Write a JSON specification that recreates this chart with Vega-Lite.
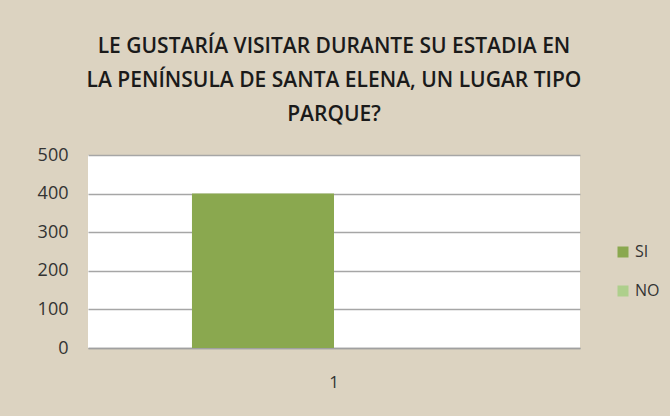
{
  "$schema": "https://vega.github.io/schema/vega-lite/v6.json",
  "autosize": {"type": "none"},
  "width": 492,
  "height": 193,
  "padding": {"left": 88, "top": 155, "right": 90, "bottom": 68},
  "background": "#DCD3C1",
  "title": {
    "text": ["LE GUSTARÍA VISITAR DURANTE  SU ESTADIA EN", "LA PENÍNSULA DE SANTA ELENA, UN LUGAR TIPO", "PARQUE?"],
    "font": "Open Sans",
    "fontSize": 21,
    "fontWeight": 600,
    "color": "#1a1a1a",
    "lineHeight": 34,
    "anchor": "middle",
    "offset": 21
  },
  "data": {
    "values": [
      {"cat": "1", "serie": "SI", "valor": 400},
      {"cat": "1", "serie": "NO", "valor": 0}
    ]
  },
  "mark": {"type": "bar"},
  "encoding": {
    "x": {
      "field": "cat", "type": "nominal",
      "scale": {"paddingInner": 0, "paddingOuter": 0.366},
      "axis": {"title": null, "labelAngle": 0, "ticks": false, "domainColor": "#A0A0A0", "domainWidth": 1.5, "labelFont": "Open Sans", "labelFontSize": 17, "labelColor": "#333333", "labelPadding": 26}
    },
    "xOffset": {"field": "serie", "type": "nominal", "sort": ["SI", "NO"], "scale": {"paddingInner": 0, "paddingOuter": 0}},
    "y": {
      "field": "valor", "type": "quantitative",
      "scale": {"domain": [0, 500]},
      "axis": {"title": null, "values": [0, 100, 200, 300, 400, 500], "domain": false, "ticks": false, "gridColor": "#A6A6A6", "gridWidth": 1.5, "labelFont": "Open Sans", "labelFontSize": 18, "labelColor": "#333333", "labelPadding": 20}
    },
    "color": {
      "field": "serie", "type": "nominal", "sort": ["SI", "NO"],
      "scale": {"domain": ["SI", "NO"], "range": ["#8AA84F", "#AECF8C"]},
      "legend": {"title": null, "orient": "none", "legendX": 527, "legendY": 89, "symbolType": "square", "symbolSize": 121, "symbolStrokeWidth": 0, "labelFont": "Open Sans", "labelFontSize": 16, "labelColor": "#333333", "rowPadding": 23, "labelOffset": 4}
    }
  },
  "config": {
    "view": {"fill": "#FFFFFF", "stroke": null}
  }
}
